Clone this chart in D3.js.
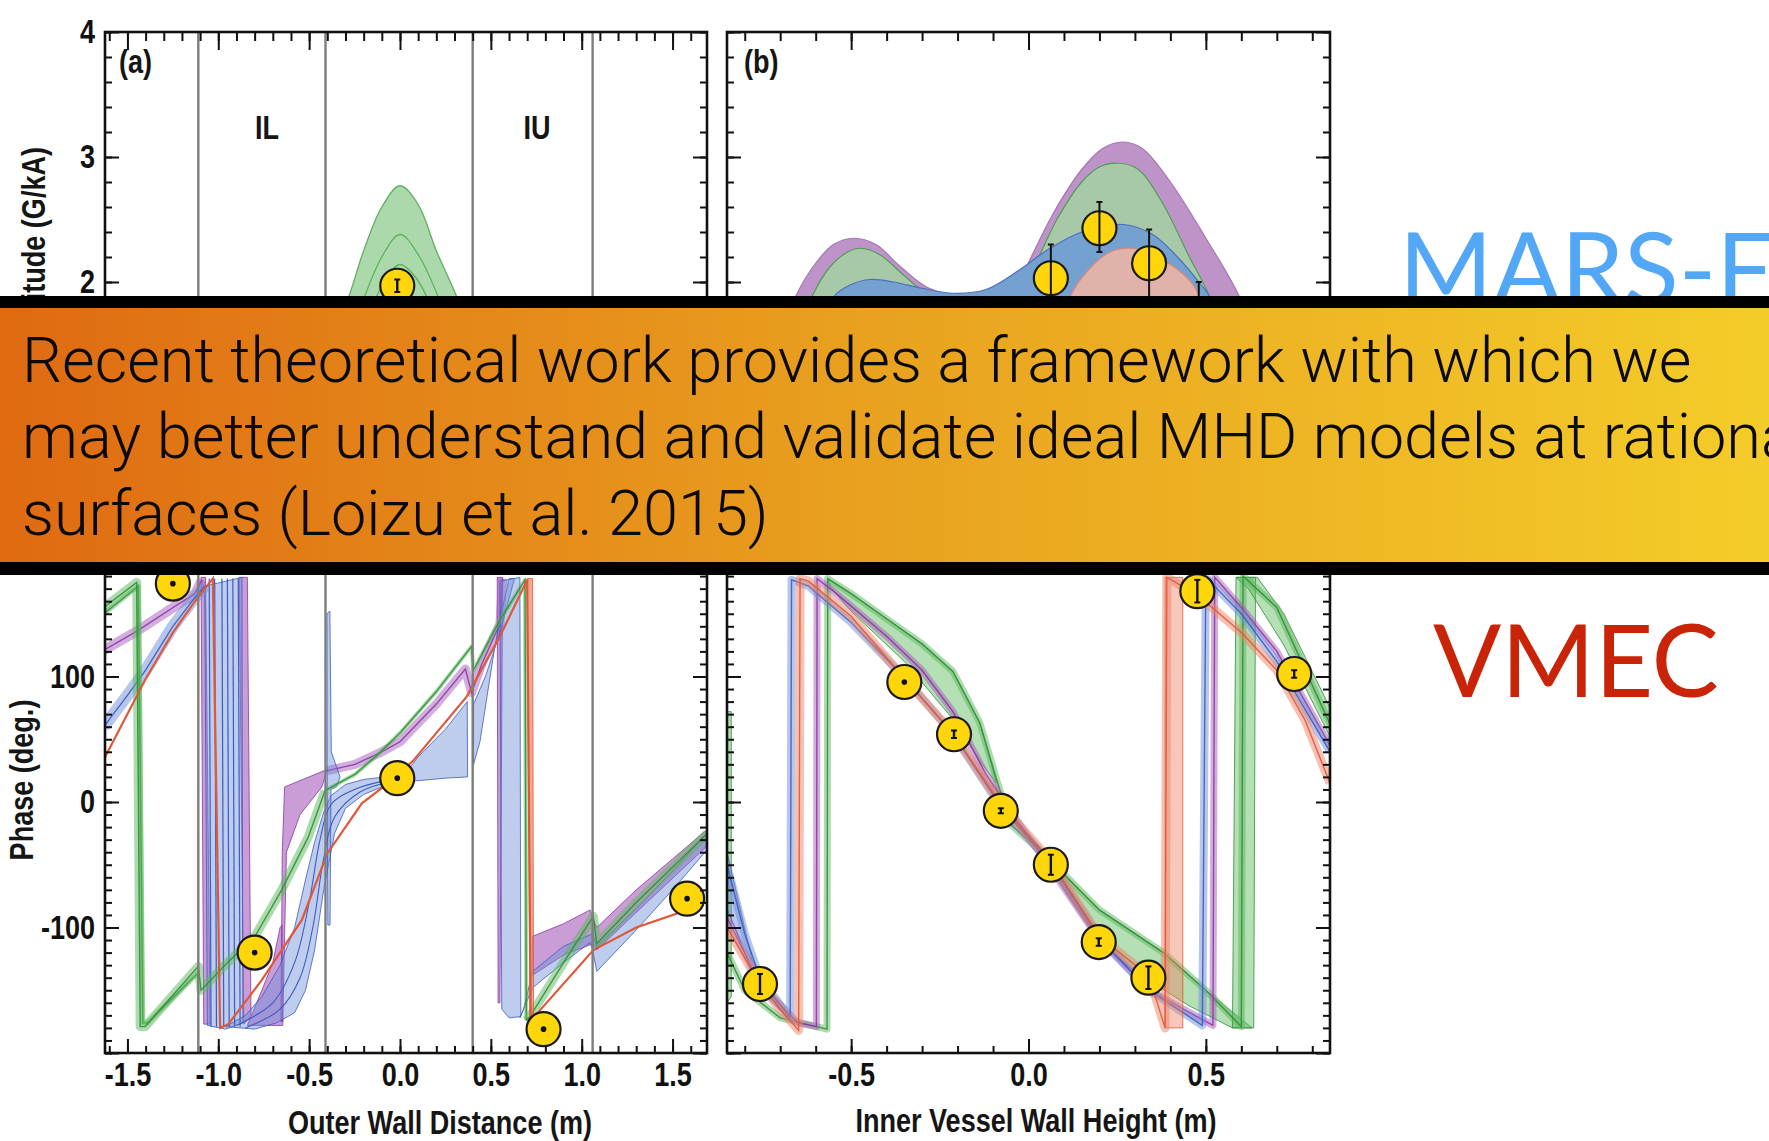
<!DOCTYPE html>
<html>
<head>
<meta charset="utf-8">
<script src="https://cdn.jsdelivr.net/npm/d3@7"></script>
<style>
  body { margin: 0; background: #fff; }
  svg { display: block; }
</style>
</head>
<body>
<svg id="chart" width="1769" height="1141"></svg>
<script>
// ---------- axis ticks ----------
const ampTickValues = [0, 1, 2, 3, 4];
const ampLabelValues = [2, 3, 4]; // 0 and 1 sit under the banner
const phaseTickValues = [-200, -100, 0, 100, 200];
const phaseLabelValues = [-100, 0, 100];
const wallTickValues = [-1.5, -1.0, -0.5, 0.0, 0.5, 1.0, 1.5];
const heightTickValues = [-0.5, 0.0, 0.5];
const regionLines = [-1.11, -0.41, 0.40, 1.06];
const regionLabels = [['IL', -0.732], ['IU', 0.754]];

// ---------- panel (a) amplitude ----------
const aAmpGreenOuter = [[-0.36, 1.6], [-0.28, 1.89], [-0.2, 2.25], [-0.1, 2.6], [0.0, 2.77], [0.1, 2.62], [0.2, 2.25], [0.31, 1.89], [0.38, 1.6]];
const aAmpGreenMid = [[-0.24, 1.7], [-0.1, 2.2], [0.0, 2.38], [0.1, 2.22], [0.26, 1.7]];
const aAmpGreenInner = [[-0.18, 1.7], [-0.08, 2.02], [0.0, 2.14], [0.09, 2.03], [0.2, 1.7]];
const aAmpMarkers = [[-0.015, 1.97, 0.05]];

// ---------- panel (b) amplitude ----------
const bAmpPurple = [[-0.70, 1.5], [-0.657, 1.88], [-0.60, 2.15], [-0.55, 2.30], [-0.494, 2.35], [-0.43, 2.30], [-0.36, 2.12], [-0.28, 1.95], [-0.15, 1.88], [-0.03, 2.0], [0.004, 2.18], [0.07, 2.55], [0.15, 2.90], [0.21, 3.07], [0.267, 3.12], [0.32, 3.07], [0.40, 2.80], [0.50, 2.35], [0.595, 1.88], [0.64, 1.5]];
const bAmpGreen = [[-0.66, 1.5], [-0.611, 1.88], [-0.56, 2.12], [-0.51, 2.24], [-0.475, 2.27], [-0.42, 2.22], [-0.35, 2.05], [-0.28, 1.90], [-0.15, 1.85], [-0.02, 1.97], [0.02, 2.15], [0.08, 2.50], [0.15, 2.80], [0.20, 2.92], [0.253, 2.95], [0.31, 2.90], [0.38, 2.62], [0.45, 2.22], [0.511, 1.88], [0.55, 1.5]];
const bAmpBlue = [[-0.60, 1.5], [-0.55, 1.88], [-0.50, 1.98], [-0.447, 2.02], [-0.38, 2.0], [-0.30, 1.95], [-0.212, 1.91], [-0.12, 1.94], [-0.024, 2.10], [0.05, 2.25], [0.15, 2.40], [0.267, 2.46], [0.35, 2.38], [0.42, 2.20], [0.483, 1.99], [0.511, 1.88], [0.54, 1.5]];
const bAmpRed = [[0.08, 1.5], [0.117, 1.88], [0.17, 2.10], [0.23, 2.24], [0.286, 2.27], [0.35, 2.22], [0.445, 2.04], [0.483, 1.88], [0.50, 1.5]];
// x, amplitude, error low, error high
const bAmpMarkers = [[0.063, 2.03, 1.75, 2.30], [0.20, 2.43, 2.24, 2.64], [0.34, 2.15, 1.80, 2.42], [0.48, 1.72, 1.45, 2.0]];

// ---------- panel (a) phase ----------
const aPhGreenLeft = [[-1.63, 155], [-1.449, 175], [-1.43, -179], [-1.403, -179], [-1.11, -131], [-1.095, -150], [-0.95, -128], [-0.798, -107], [-0.651, -70], [-0.505, -28], [-0.413, 9]];
const aPhGreenLeft2 = [[-1.63, 150], [-1.44, 172], [-1.415, -176], [-1.39, -176], [-1.11, -136]];
const aPhGreenMid = [[-0.413, 9], [-0.30, 18], [-0.248, 22], [-0.12, 38], [0, 55], [0.20, 88], [0.394, 124], [0.404, 105], [0.55, 145], [0.688, 177], [0.695, -174]];
const aPhGreenRight = [[0.695, -174], [0.715, -171], [0.90, -128], [1.064, -91], [1.083, -113], [1.30, -80], [1.50, -52], [1.69, -25]];
const aPhPurpleLeft = [[-1.63, 121], [-1.45, 136], [-1.238, 156], [-1.128, 166], [-1.09, 177]];
const aPhPurpleMid = [[-0.40, 25], [-0.248, 30], [-0.10, 40], [0, 48], [0.20, 78], [0.36, 106], [0.394, 87], [0.45, 110], [0.55, 142], [0.565, 178]];
const aPhPurpleCurtain1 = [[-1.095, 179], [-1.07, 179], [-1.045, -177], [-1.08, -177]];
const aPhPurpleCurtain2 = [[-0.885, 179], [-0.84, 179], [-0.82, -170], [-0.86, -177]];
const aPhPurpleLow = [[-0.84, -178], [-0.76, -150], [-0.70, -128], [-0.66, -100], [-0.648, -98], [-0.645, -178]];
const aPhPurpleTri = [[-0.635, 12], [-0.40, 26], [-0.43, 12], [-0.55, -10], [-0.625, -40], [-0.645, -175], [-0.655, -175], [-0.648, -40]];
const aPhPurpleCurtain3 = [[0.535, 179], [0.565, 179], [0.55, -160], [0.54, -160]];
const aPhPurpleRight = [[0.73, -107], [0.90, -97], [1.046, -86], [1.06, -92], [1.083, -100], [1.30, -70], [1.69, -22], [1.69, -35], [1.30, -88], [1.083, -118], [1.06, -113], [0.90, -122], [0.73, -138]];
const aPhBlueLeft = [[-1.63, 60], [-1.50, 85], [-1.40, 105], [-1.25, 140], [-1.128, 163], [-1.075, 172]];
const aPhBlueCurtain = [[-1.075, 172], [-0.87, 179], [-0.865, -176], [-0.96, -181], [-1.06, -178]];
const aPhBlueDrops = [-1.05, -1.02, -0.98, -0.95, -0.92, -0.89];
const aPhBlueFan = [[-0.96, -179], [-0.85, -170], [-0.76, -155], [-0.66, -130], [-0.58, -100], [-0.52, -62], [-0.47, -32], [-0.42, -8], [-0.38, 5], [-0.30, 14], [-0.20, 18], [-0.08, 20], [0.0, 22], [0.0, 15], [-0.10, 12], [-0.20, 6], [-0.30, -5], [-0.36, -25], [-0.42, -70], [-0.47, -118], [-0.52, -150], [-0.58, -168], [-0.68, -176], [-0.80, -181]];
const aPhBlueFanLines = [
  [[-0.90, -178], [-0.70, -160], [-0.58, -128], [-0.50, -80], [-0.44, -30], [-0.38, -2], [-0.25, 10], [-0.05, 18]],
  [[-0.85, -180], [-0.66, -165], [-0.55, -140], [-0.48, -100], [-0.42, -45], [-0.36, -12], [-0.22, 8], [-0.03, 17]]
];
const aPhBlueSpike = [[-0.402, 150], [-0.386, 152], [-0.378, 40], [-0.33, 20], [-0.35, 12], [-0.38, 10], [-0.385, -98], [-0.397, -98], [-0.40, -20]];
const aPhBlueCenter = [[0.0, 17], [0.10, 36], [0.25, 58], [0.37, 80], [0.372, 20], [0.25, 19], [0.10, 17]];
const aPhBlueRise = [[0.405, 30], [0.44, 48], [0.48, 85], [0.52, 122], [0.56, 152], [0.60, 178], [0.63, 178], [0.55, 135], [0.47, 100], [0.405, 78]];
const aPhBlueCurtain2 = [[0.55, 176], [0.66, 179], [0.665, -171], [0.60, -172], [0.56, -165]];
const aPhBlueRight = [[0.66, -172], [0.73, -148], [0.90, -128], [1.046, -112], [1.06, -118], [1.083, -135], [1.30, -102], [1.50, -70], [1.69, -38], [1.69, -25], [1.50, -55], [1.30, -85], [1.083, -115], [1.06, -105], [0.90, -115], [0.73, -135], [0.68, -165]];
const aPhRed = [[-1.63, 34], [-1.40, 98], [-1.25, 135], [-1.128, 160], [-1.03, 178], [-0.99, -180], [-0.945, -177], [-0.761, -142], [-0.54, -94], [-0.40, -41], [-0.21, -1], [-0.065, 15], [0.073, 33], [0.367, 84], [0.55, 132], [0.70, 177], [0.72, -178], [0.77, -166], [1.064, -118], [1.30, -100], [1.52, -89], [1.58, -78]];
const aPhRedDrop = [[0.70, 178], [0.73, 178], [0.735, -178], [0.715, -178]];
const aPhMarkers = [[-1.25, 174], [-0.80, -120], [-0.015, 19], [0.79, -181], [1.58, -77]];

// ---------- panel (b) phase ----------
const bPhRed = [[-0.85, -100], [-0.757, -145], [-0.70, -165], [-0.648, -182], [-0.644, 178], [-0.62, 176], [-0.50, 148], [-0.343, 96], [-0.213, 55], [-0.08, -1], [0.06, -46], [0.20, -107], [0.34, -139], [0.385, -180], [0.39, 179], [0.476, 165], [0.60, 135], [0.70, 105], [0.78, 65], [0.85, 15]];
const bPhRedCurtain = [[0.385, -180], [0.435, -180], [0.435, 179], [0.385, 179]];
const bPhBlue = [[-0.85, -50], [-0.80, -105], [-0.757, -140], [-0.672, -172], [-0.668, 177], [-0.62, 172], [-0.50, 143], [-0.343, 97], [-0.213, 54], [-0.08, -3], [0.06, -48], [0.20, -108], [0.34, -150], [0.49, -178], [0.50, 179], [0.60, 150], [0.70, 112], [0.85, 40]];
const bPhBlueFan = [[-0.85, -40], [-0.78, -125], [-0.70, -165], [-0.68, -172], [-0.757, -150], [-0.85, -85]];
const bPhPurple = [[-0.85, -92], [-0.757, -145], [-0.65, -176], [-0.598, -179], [-0.596, 178], [-0.55, 168], [-0.40, 132], [-0.30, 105], [-0.213, 72], [-0.12, 22], [0.0, -28], [0.06, -52], [0.20, -110], [0.34, -150], [0.52, -178], [0.525, 179], [0.60, 155], [0.70, 120], [0.85, 45]];
const bPhGreen = [[-0.85, -120], [-0.80, -150], [-0.70, -172], [-0.568, -181], [-0.566, 178], [-0.50, 166], [-0.40, 146], [-0.30, 126], [-0.213, 104], [-0.137, 63], [-0.09, 18], [-0.05, -18], [0.06, -46], [0.20, -86], [0.38, -120], [0.50, -150], [0.60, -179], [0.605, 180], [0.70, 155], [0.85, 62]];
const bPhGreenEdge = [[-0.85, 72], [-0.838, 72], [-0.838, -155], [-0.85, -160]];
const bPhGreenFan = [[-0.566, 178], [-0.50, 166], [-0.40, 146], [-0.30, 126], [-0.213, 104], [-0.137, 63], [-0.09, 15], [-0.13, 30], [-0.213, 66], [-0.35, 112], [-0.50, 152], [-0.56, 172]];
const bPhGreenFan2 = [[0.07, -50], [0.20, -86], [0.38, -120], [0.50, -150], [0.63, -180], [0.575, -180], [0.45, -162], [0.30, -135], [0.20, -112], [0.10, -70]];
const bPhGreenCurtain = [[0.575, -180], [0.635, -180], [0.64, 179], [0.585, 179]];
const bPhGreenTop = [[0.585, 179], [0.645, 179], [0.72, 150], [0.85, 75], [0.85, 52], [0.72, 125], [0.62, 170]];
// x, phase, error
const bPhMarkers = [[-0.757, -145, 8], [-0.35, 95.6, 1], [-0.21, 54, 3], [-0.078, -7, 2], [0.063, -50, 8], [0.198, -111.6, 3], [0.338, -140, 9], [0.476, 168, 9], [0.749, 102, 3]];

// ---------- slide text ----------
const bannerLines = ['Recent theoretical work provides a framework with which we',
  'may better understand and validate ideal MHD models at rational',
  'surfaces (Loizu et al. 2015)'];

const FIG_FONT = '"Liberation Sans", Arial, sans-serif';
const COL = {
  green: '#5cb85c', greenEdge: '#2f8f3a',
  purple: '#a75cbc', purpleEdge: '#8a3aa2',
  blue: '#6f8fd8', blueEdge: '#3c5cc0',
  red: '#ee8466', redEdge: '#e0583a'
};

const svg = d3.select('#chart');
svg.append('rect').attr('width', 1769).attr('height', 1141).attr('fill', '#fff');
const defs = svg.append('defs');

// scales
const xA = d3.scaleLinear().domain([-1.6235, 1.6896]).range([105, 707]);
const xB = d3.scaleLinear().domain([-0.85, 0.85]).range([727, 1330]);
const yAmp = d3.scaleLinear().domain([0, 4]).range([532, 32]);
const yPh = d3.scaleLinear().domain([-200, 200]).range([1053, 551]);

const wallMinor = d3.range(-16, 17).map(k => k / 10);
const heightMinor = d3.range(-8, 9).map(k => k / 10);
const ampMinor = d3.range(0, 21).map(k => k / 5);
const phaseMinor = d3.range(-20, 21).map(k => k * 10);

let clipId = 0;
function plotArea(x, y) {
  const id = 'clip' + (clipId++);
  const [x0, x1] = x.range();
  const [y0, y1] = y.range();
  defs.append('clipPath').attr('id', id).append('rect')
    .attr('x', x0).attr('y', y1).attr('width', x1 - x0).attr('height', y0 - y1);
  return svg.append('g').attr('clip-path', `url(#${id})`);
}

function styleAxis(sel) {
  sel.select('.domain').remove();
  sel.selectAll('.tick line').attr('stroke', '#111').attr('stroke-width', 2);
  sel.selectAll('.tick text')
    .attr('font-family', FIG_FONT).attr('font-weight', 'bold')
    .attr('font-size', 33).attr('fill', '#111')
    .attr('transform', 'scale(0.82,1)');
}

// ticks on all four sides, pointing inward, then the frame
function drawFrame(x, y, xMajor, xMinor, yMajor, yMinor, xLabels, yLabels) {
  const [x0, x1] = x.range();
  const [y0, y1] = y.range();
  const g = svg.append('g');
  const fmtX = d => d.toFixed(1);
  const fmtY = d => String(d);
  g.append('g').attr('transform', `translate(0,${y0})`).call(d3.axisBottom(x).tickValues(xMinor).tickSize(-7).tickFormat('')).call(styleAxis);
  g.append('g').attr('transform', `translate(0,${y0})`).call(d3.axisBottom(x).tickValues(xMajor).tickSize(-14).tickPadding(10).tickFormat(xLabels ? fmtX : '')).call(styleAxis);
  g.append('g').attr('transform', `translate(0,${y1})`).call(d3.axisTop(x).tickValues(xMinor).tickSize(-9).tickFormat('')).call(styleAxis);
  g.append('g').attr('transform', `translate(0,${y1})`).call(d3.axisTop(x).tickValues(xMajor).tickSize(-18).tickFormat('')).call(styleAxis);
  g.append('g').attr('transform', `translate(${x0},0)`).call(d3.axisLeft(y).tickValues(yMinor).tickSize(-7).tickFormat('')).call(styleAxis);
  g.append('g').attr('transform', `translate(${x0},0)`).call(d3.axisLeft(y).tickValues(yMajor).tickSize(-14).tickFormat('')).call(styleAxis);
  if (yLabels) {
    g.append('g').attr('transform', `translate(${x0},0)`).call(d3.axisLeft(y).tickValues(yLabels).tickSize(0).tickPadding(12).tickFormat(fmtY)).call(styleAxis);
  }
  g.append('g').attr('transform', `translate(${x1},0)`).call(d3.axisRight(y).tickValues(yMinor).tickSize(-7).tickFormat('')).call(styleAxis);
  g.append('g').attr('transform', `translate(${x1},0)`).call(d3.axisRight(y).tickValues(yMajor).tickSize(-14).tickFormat('')).call(styleAxis);
  g.append('rect').attr('x', x0).attr('y', y1).attr('width', x1 - x0).attr('height', y0 - y1)
    .attr('fill', 'none').attr('stroke', '#111').attr('stroke-width', 2.6);
}

function figText(x, y, str, anchor, rot) {
  svg.append('g').attr('transform', `translate(${x},${y}) rotate(${rot || 0}) scale(0.82,1)`)
    .append('text').attr('text-anchor', anchor || 'middle')
    .attr('font-family', FIG_FONT).attr('font-weight', 'bold').attr('font-size', 33)
    .attr('fill', '#151515').text(str);
}

const lineOf = (x, y, curve) => d3.line().x(d => x(d[0])).y(d => y(d[1])).curve(curve || d3.curveLinear);

function bandLine(g, pts, x, y, color, edge, width) {
  g.append('path').attr('d', lineOf(x, y)(pts)).attr('fill', 'none')
    .attr('stroke', color).attr('stroke-width', width).attr('stroke-opacity', 0.5)
    .attr('stroke-linejoin', 'round');
  g.append('path').attr('d', lineOf(x, y)(pts)).attr('fill', 'none')
    .attr('stroke', edge).attr('stroke-width', 1.4).attr('stroke-opacity', 0.9);
}

function patch(g, pts, x, y, color, edge, op) {
  g.append('path').attr('d', lineOf(x, y)(pts) + 'Z')
    .attr('fill', color).attr('fill-opacity', op || 0.55)
    .attr('stroke', edge).attr('stroke-width', 1).attr('stroke-opacity', 0.8);
}

function ampArea(g, pts, fill, edge) {
  const area = d3.area().x(d => xB(d[0])).y0(yAmp(1.0)).y1(d => yAmp(d[1])).curve(d3.curveCatmullRom);
  g.append('path').attr('d', area(pts)).attr('fill', fill).attr('stroke', edge).attr('stroke-width', 1.2);
}

function marker(g, cx, cy, y0, y1, longBar) {
  g.append('circle').attr('cx', cx).attr('cy', cy).attr('r', 17)
    .attr('fill', '#ffd60a').attr('stroke', '#1a1a1a').attr('stroke-width', 2.2);
  if (Math.abs(y1 - y0) < 4) {
    g.append('circle').attr('cx', cx).attr('cy', cy).attr('r', 2.8).attr('fill', '#111');
  } else {
    g.append('line').attr('x1', cx).attr('x2', cx).attr('y1', y0).attr('y2', y1)
      .attr('stroke', '#111').attr('stroke-width', longBar ? 2 : 2.4);
    [y0, y1].forEach(v => g.append('line').attr('x1', cx - 3).attr('x2', cx + 3)
      .attr('y1', v).attr('y2', v).attr('stroke', '#111').attr('stroke-width', 2));
  }
}

// ---------- panel (a) amplitude ----------
const gAA = plotArea(xA, yAmp);
const aArea = d3.area().x(d => xA(d[0])).y0(yAmp(1.0)).y1(d => yAmp(d[1])).curve(d3.curveCatmullRom);
gAA.append('path').attr('d', aArea(aAmpGreenOuter)).attr('fill', '#abd9ab').attr('stroke', '#5fb05f').attr('stroke-width', 1.3);
[aAmpGreenMid, aAmpGreenInner].forEach(pts => gAA.append('path')
  .attr('d', lineOf(xA, yAmp, d3.curveCatmullRom)(pts)).attr('fill', 'none')
  .attr('stroke', '#5fb05f').attr('stroke-width', 1.3));
aAmpMarkers.forEach(d => marker(gAA, xA(d[0]), yAmp(d[1]), yAmp(d[1] - d[2]), yAmp(d[1] + d[2])));

// ---------- panel (b) amplitude ----------
const gBA = plotArea(xB, yAmp);
ampArea(gBA, bAmpPurple, '#bd93c8', '#a777b5');
ampArea(gBA, bAmpGreen, '#a7c9a8', '#4f9e55');
ampArea(gBA, bAmpBlue, '#74a1cf', '#4e6fc0');
ampArea(gBA, bAmpRed, '#e1b2aa', '#d98a7a');
bAmpMarkers.forEach(d => marker(gBA, xB(d[0]), yAmp(d[1]), yAmp(d[2]), yAmp(d[3]), true));

// ---------- panel (a) phase ----------
const gAP = plotArea(xA, yPh);
[aPhPurpleCurtain1, aPhPurpleCurtain2, aPhPurpleLow, aPhPurpleTri, aPhPurpleCurtain3, aPhPurpleRight]
  .forEach(p => patch(gAP, p, xA, yPh, COL.purple, COL.purpleEdge, 0.6));
bandLine(gAP, aPhPurpleLeft, xA, yPh, COL.purple, COL.purpleEdge, 10);
bandLine(gAP, aPhPurpleMid, xA, yPh, COL.purple, COL.purpleEdge, 9);
[aPhBlueCurtain, aPhBlueFan, aPhBlueSpike, aPhBlueCenter, aPhBlueRise, aPhBlueCurtain2, aPhBlueRight]
  .forEach(p => patch(gAP, p, xA, yPh, COL.blue, COL.blueEdge, 0.45));
aPhBlueDrops.forEach(v => gAP.append('line').attr('x1', xA(v)).attr('x2', xA(v + 0.01))
  .attr('y1', yPh(178)).attr('y2', yPh(-179)).attr('stroke', COL.blueEdge).attr('stroke-width', 1.2));
aPhBlueFanLines.forEach(pts => gAP.append('path').attr('d', lineOf(xA, yPh, d3.curveCatmullRom)(pts))
  .attr('fill', 'none').attr('stroke', COL.blueEdge).attr('stroke-width', 1.1));
bandLine(gAP, aPhBlueLeft, xA, yPh, COL.blue, COL.blueEdge, 12);
bandLine(gAP, aPhGreenLeft2, xA, yPh, COL.green, COL.greenEdge, 5);
bandLine(gAP, aPhGreenLeft, xA, yPh, COL.green, COL.greenEdge, 9);
bandLine(gAP, aPhGreenMid, xA, yPh, COL.green, COL.greenEdge, 4);
bandLine(gAP, aPhGreenRight, xA, yPh, COL.green, COL.greenEdge, 9);
patch(gAP, aPhRedDrop, xA, yPh, COL.red, COL.redEdge, 0.7);
gAP.append('path').attr('d', lineOf(xA, yPh)(aPhRed)).attr('fill', 'none')
  .attr('stroke', COL.redEdge).attr('stroke-width', 2.2);
aPhMarkers.forEach(d => marker(gAP, xA(d[0]), yPh(d[1]), yPh(d[1]), yPh(d[1])));

// ---------- panel (b) phase ----------
const gBP = plotArea(xB, yPh);
[bPhGreenEdge, bPhGreenFan, bPhGreenFan2, bPhGreenCurtain, bPhGreenTop]
  .forEach(p => patch(gBP, p, xB, yPh, COL.green, COL.greenEdge, 0.45));
bandLine(gBP, bPhGreen, xB, yPh, COL.green, COL.greenEdge, 7);
bandLine(gBP, bPhPurple, xB, yPh, COL.purple, COL.purpleEdge, 7);
patch(gBP, bPhBlueFan, xB, yPh, COL.blue, COL.blueEdge, 0.5);
bandLine(gBP, bPhBlue, xB, yPh, COL.blue, COL.blueEdge, 8);
patch(gBP, bPhRedCurtain, xB, yPh, COL.red, COL.redEdge, 0.45);
bandLine(gBP, bPhRed, xB, yPh, COL.red, COL.redEdge, 9);
bPhMarkers.forEach(d => marker(gBP, xB(d[0]), yPh(d[1]), yPh(d[1] - d[2]), yPh(d[1] + d[2])));

// region boundaries of panel (a), through both plots
const gLines = svg.append('g');
regionLines.forEach(v => gLines.append('line').attr('x1', xA(v)).attr('x2', xA(v))
  .attr('y1', yAmp(4)).attr('y2', yPh(-200)).attr('stroke', '#7d7d7d').attr('stroke-width', 2.4));

// frames and ticks
drawFrame(xA, yAmp, wallTickValues, wallMinor, ampTickValues, ampMinor, false, ampLabelValues);
drawFrame(xB, yAmp, heightTickValues, heightMinor, ampTickValues, ampMinor, false, null);
drawFrame(xA, yPh, wallTickValues, wallMinor, phaseTickValues, phaseMinor, true, phaseLabelValues);
drawFrame(xB, yPh, heightTickValues, heightMinor, phaseTickValues, phaseMinor, true, null);

// figure labels
figText(119, 73, '(a)', 'start');
figText(744, 73, '(b)', 'start');
regionLabels.forEach(d => figText(xA(d[1]), 139, d[0]));
figText(440, 1134, 'Outer Wall Distance (m)');
figText(1036, 1132, 'Inner Vessel Wall Height (m)');
figText(33, 780, 'Phase (deg.)', 'middle', -90);
figText(45, 147, 'Amplitude (G/kA)', 'end', -90);

// ---------- slide texts ----------
const modelFont = 'Lato, "Open Sans", "DejaVu Sans", sans-serif';
const vmec = svg.append('text').attr('x', 1433).attr('y', 697)
  .attr('font-family', modelFont).attr('font-size', 100).attr('fill', '#c92408').text('VMEC');
const modelSize = 100 * 286 / vmec.node().getComputedTextLength();
vmec.attr('font-size', modelSize);
svg.append('text').attr('x', 1399).attr('y', 305)
  .attr('font-family', modelFont).attr('font-size', modelSize).attr('fill', '#52a8f6').text('MARS-F');

// ---------- banner ----------
const grad = defs.append('linearGradient').attr('id', 'bannerGrad').attr('x1', '0%').attr('x2', '100%');
grad.append('stop').attr('offset', '0%').attr('stop-color', '#df6a12');
grad.append('stop').attr('offset', '50%').attr('stop-color', '#e9a21f');
grad.append('stop').attr('offset', '100%').attr('stop-color', '#f4cc29');
svg.append('rect').attr('x', 0).attr('y', 296).attr('width', 1769).attr('height', 279).attr('fill', '#000');
svg.append('rect').attr('x', 0).attr('y', 308).attr('width', 1769).attr('height', 254).attr('fill', 'url(#bannerGrad)');

const bannerFont = 'Roboto, "Liberation Sans", sans-serif';
const bannerBase = [382, 458, 535];
const bannerTexts = bannerLines.map((s, i) => svg.append('text')
  .attr('x', 22).attr('y', bannerBase[i])
  .attr('font-family', bannerFont).attr('font-weight', 300)
  .attr('font-size', 60).attr('fill', '#0a0a0a').text(s));
const bannerSize = 60 * 1670 / bannerTexts[0].node().getComputedTextLength();
bannerTexts.forEach(t => t.attr('font-size', bannerSize));
</script>
</body>
</html>
